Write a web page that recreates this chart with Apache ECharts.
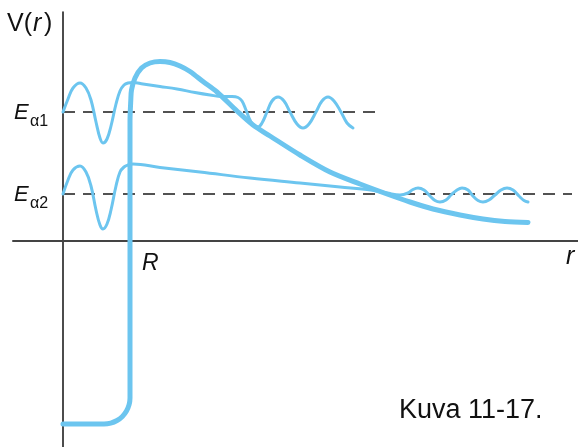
<!DOCTYPE html>
<html><head><meta charset="utf-8">
<script src="https://cdn.jsdelivr.net/npm/echarts@6/dist/echarts.min.js"></script>
<style>html,body{margin:0;padding:0;background:#fff}#c{width:578px;height:447px}</style>
</head><body><div id="c"></div>
<script>
// Potential V(r): well + Coulomb barrier
const potR = [0, 4.1, 4.77, 5.4, 5.94, 6.35, 6.61, 6.7, 6.7, 6.78, 6.85, 7.2, 7.85, 8.7, 9.7, 10.7, 11.7, 12.7, 14.0, 15.4, 17.4, 19.0, 20.7, 23.7, 26.7, 29.7, 32.4, 34.7, 37.0, 39.7, 42.0, 44.2, 46.5];
const potV = [-18.3, -18.3, -18.21, -17.95, -17.54, -17.0, -16.37, -15.7, 12.0, 14.1, 15.1, 16.3, 17.3, 17.8, 17.95, 17.85, 17.5, 16.95, 15.95, 14.9, 13.0, 11.6, 10.5, 8.6, 6.9, 5.7, 4.7, 3.9, 3.2, 2.6, 2.2, 1.95, 1.85];
// Wavefunction at E_alpha1
const wave1R = [0, 0.5, 1.0, 1.7, 2.3, 2.8, 3.3, 3.7, 4.0, 4.4, 4.8, 5.3, 5.7, 6.1, 6.5, 7.0, 8.0, 9.7, 11.4, 13.2, 14.7, 15.9, 16.9, 17.5, 17.9, 18.3, 18.7, 19.1, 19.5, 19.9, 20.4, 20.9, 21.5, 22.1, 22.7, 23.4, 24.0, 24.6, 25.3, 25.9, 26.5, 27.1, 27.8, 28.4, 29.0];
const wave1V = [12.9, 14.2, 15.3, 15.8, 15.3, 14.1, 11.9, 10.3, 9.8, 10.2, 11.5, 13.7, 15.0, 15.6, 15.8, 15.85, 15.7, 15.45, 15.2, 14.85, 14.6, 14.45, 14.45, 14.35, 14.0, 13.1, 12.1, 11.5, 11.4, 11.8, 12.9, 14.0, 14.4, 14.0, 12.9, 11.7, 11.3, 11.7, 12.9, 14.0, 14.4, 14.0, 12.9, 11.8, 11.3];
// Wavefunction at E_alpha2
const wave2R = [0, 0.5, 1.0, 1.7, 2.3, 2.8, 3.3, 3.7, 4.0, 4.4, 4.8, 5.3, 5.7, 6.1, 6.5, 7.0, 9.7, 13.7, 18.7, 23.7, 27.7, 30.4, 32.4, 33.7, 34.5, 35.0, 35.5, 36.1, 36.7, 37.2, 37.7, 38.3, 38.8, 39.4, 39.9, 40.5, 41.0, 41.5, 42.0, 42.6, 43.2, 43.8, 44.4, 45.0, 45.6, 46.1, 46.5];
const wave2V = [4.7, 6.1, 7.1, 7.5, 6.9, 5.5, 3.1, 1.6, 1.2, 1.7, 3.1, 5.5, 6.9, 7.4, 7.6, 7.7, 7.35, 6.9, 6.3, 5.8, 5.4, 5.15, 4.8, 4.6, 4.8, 5.15, 5.3, 5.1, 4.5, 4.05, 3.9, 4.1, 4.6, 5.1, 5.3, 5.1, 4.5, 4.05, 3.9, 4.1, 4.6, 5.1, 5.3, 5.1, 4.5, 4.05, 3.9];
// Energy levels (dashed)
const level1R = [0, 32.0];
const level1V = [12.9, 12.9];
const level2R = [0, 50.9];
const level2V = [4.7, 4.7];

const zip = (a, b) => a.map((v, i) => [v, b[i]]);
const BLUE = '#6cc5ef';
const FONT = "'Liberation Sans', Arial, Helvetica, sans-serif";
const INK = '#111';

const chart = echarts.init(document.getElementById('c'), null, {renderer: 'canvas'});
const dashed = {color: '#1a1a1a', width: 1.5, type: [12, 8]};
const txt = (x, y, text, font) => ({type: 'text', x: x, y: y,
  style: {text: text, font: font, fill: INK, verticalAlign: 'middle'}});
chart.setOption({
  animation: false,
  backgroundColor: '#fff',
  grid: {left: 13, right: 0, top: 12, bottom: 0, containLabel: false},
  xAxis: {type: 'value', min: -5, max: 51.5,
    axisLine: {show: true, onZero: true, lineStyle: {color: '#444', width: 2}},
    axisTick: {show: false}, axisLabel: {show: false}, splitLine: {show: false}},
  yAxis: {type: 'value', min: -20.6, max: 22.9,
    axisLine: {show: true, onZero: true, lineStyle: {color: '#111', width: 1.5}},
    axisTick: {show: false}, axisLabel: {show: false}, splitLine: {show: false}},
  series: [
    {type: 'line', data: zip(level1R, level1V), showSymbol: false, lineStyle: dashed, silent: true},
    {type: 'line', data: zip(level2R, level2V), showSymbol: false, lineStyle: dashed, silent: true},
    {type: 'line', data: zip(potR, potV), showSymbol: false, smooth: 0.3,
      lineStyle: {color: BLUE, width: 5, cap: 'round', join: 'round'}},
    {type: 'line', data: zip(wave1R, wave1V), showSymbol: false, smooth: 0.4,
      lineStyle: {color: BLUE, width: 3, cap: 'round', join: 'round'}},
    {type: 'line', data: zip(wave2R, wave2V), showSymbol: false, smooth: 0.4,
      lineStyle: {color: BLUE, width: 3, cap: 'round', join: 'round'}}
  ],
  graphic: [
    txt(7, 24, 'V(', '25px ' + FONT),
    txt(33, 24, 'r', 'italic 25px ' + FONT),
    txt(44, 24, ')', '25px ' + FONT),
    txt(14, 113, 'E', 'italic 22px ' + FONT),
    txt(30, 122, 'α1', '16px ' + FONT),
    txt(14, 195, 'E', 'italic 22px ' + FONT),
    txt(30, 204, 'α2', '16px ' + FONT),
    txt(142, 264, 'R', 'italic 23px ' + FONT),
    txt(566, 257, 'r', 'italic 25px ' + FONT),
    txt(399, 411, 'Kuva 11-17.', '27px ' + FONT)
  ]
});
</script>
</body></html>
